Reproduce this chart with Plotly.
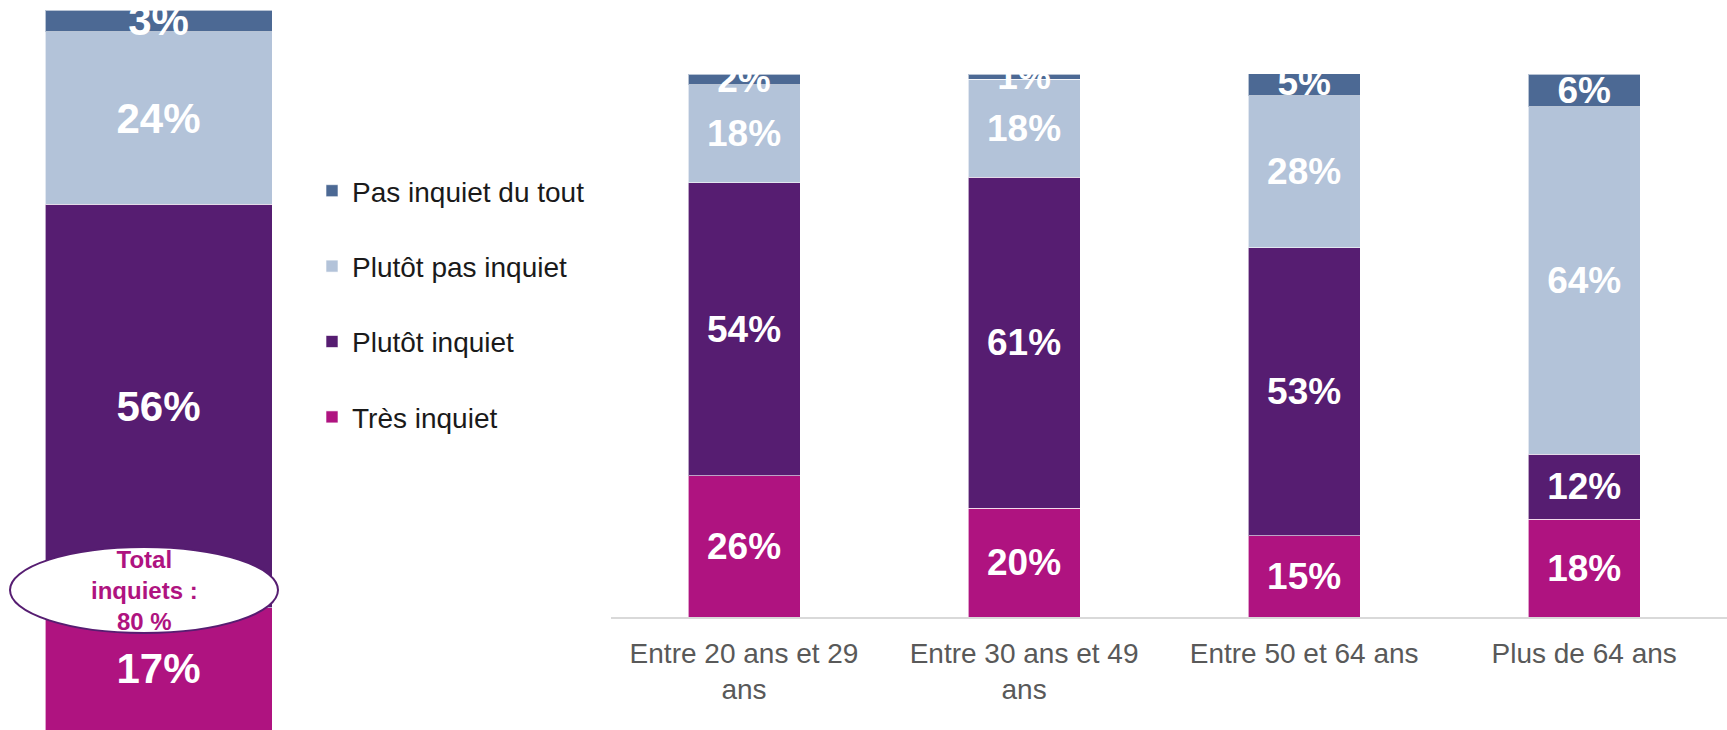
import plotly.graph_objects as go

# data
series = ["Très inquiet", "Plutôt inquiet", "Plutôt pas inquiet", "Pas inquiet du tout"]
colors = ["#AF1380", "#561D71", "#B3C3D9", "#4C6994"]
total_label = ["Total"]
total_values = [17, 56, 24, 3]
age_groups = ["Entre 20 ans et 29<br>ans", "Entre 30 ans et 49<br>ans",
              "Entre 50 et 64 ans", "Plus de 64 ans"]
age_values = {
    "Très inquiet": [26, 20, 15, 18],
    "Plutôt inquiet": [54, 61, 53, 12],
    "Plutôt pas inquiet": [18, 18, 28, 64],
    "Pas inquiet du tout": [2, 1, 5, 6],
}
total_inquiets = 80

W, H = 1727, 730
FONT = "Arial, Liberation Sans, sans-serif"

fig = go.Figure()

for rank, (name, col, tv) in enumerate(zip(series, colors, total_values)):
    # left total bar
    fig.add_trace(go.Bar(
        x=total_label, y=[tv], name=name, legendgroup=name,
        legendrank=1000 - rank,
        marker=dict(color=col, line=dict(color="rgba(255,255,255,0.6)", width=1)),
        width=1, text=[f"{tv}%"], textposition="inside", insidetextanchor="middle",
        constraintext="none", textangle=0,
        textfont=dict(family=FONT, size=42, color="white", weight="bold"),
        xaxis="x", yaxis="y", showlegend=True, hoverinfo="skip",
    ))
    vals = age_values[name]
    fig.add_trace(go.Bar(
        x=age_groups, y=vals, name=name, legendgroup=name,
        legendrank=1000 - rank,
        marker=dict(color=col, line=dict(color="rgba(255,255,255,0.6)", width=1)),
        width=0.4, text=[f"{v}%" for v in vals], textposition="inside",
        insidetextanchor="middle", constraintext="none", textangle=0,
        textfont=dict(family=FONT, size=37, color="white", weight="bold"),
        xaxis="x2", yaxis="y2", showlegend=False, hoverinfo="skip",
    ))

def px_x(p):
    return p / W

def px_y(p):
    return (H - p) / H

fig.update_layout(
    width=W, height=H,
    barmode="stack",
    plot_bgcolor="white", paper_bgcolor="white",
    margin=dict(l=0, r=0, t=0, b=0),
    font=dict(family=FONT),
    xaxis=dict(domain=[px_x(45), px_x(272)], range=[-0.5, 0.5],
               visible=False, fixedrange=True),
    yaxis=dict(domain=[0, px_y(10)], range=[0, 100], visible=False),
    xaxis2=dict(domain=[px_x(611), 1], range=[-0.475, 3.51], anchor="y2",
                showline=True, linecolor="#D9D9D9", linewidth=2,
                showgrid=False, ticks="", ticklabelstandoff=10,
                tickfont=dict(family=FONT, size=28, color="#595959")),
    yaxis2=dict(domain=[px_y(617), px_y(74)], range=[0, 100], visible=False,
                anchor="x2"),
    legend=dict(
        x=px_x(312), y=px_y(166), xanchor="left", yanchor="top",
        traceorder="grouped", tracegroupgap=36,
        font=dict(family=FONT, size=28, color="#1A1A1A"),
        bgcolor="rgba(0,0,0,0)",
    ),
    showlegend=True,
)

# "Total inquiets" ellipse
fig.add_shape(type="circle", xref="paper", yref="paper",
              x0=px_x(10), x1=px_x(278), y0=px_y(633), y1=px_y(547),
              fillcolor="white", line=dict(color="#561D71", width=2), layer="above")
fig.add_annotation(xref="paper", yref="paper", x=px_x(144), y=px_y(590),
                   xanchor="center", yanchor="middle",
                   text=f"Total<br>inquiets :<br>{total_inquiets} %", showarrow=False,
                   font=dict(family=FONT, size=24, color="#AF1380", weight="bold"),
                   align="center")

fig.write_html("out.html", config={"displayModeBar": False},
               post_script="document.body.style.margin='0';")
